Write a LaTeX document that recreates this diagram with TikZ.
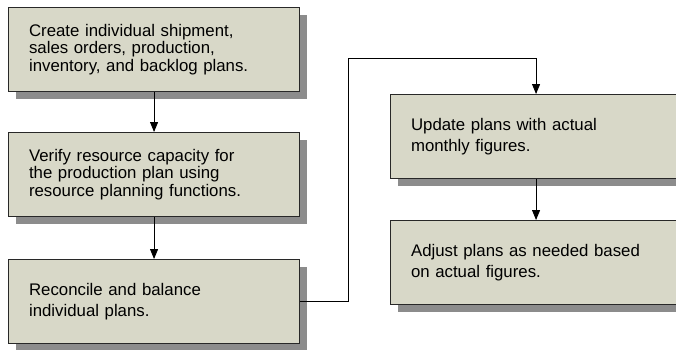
\documentclass[tikz,border=0pt]{standalone}
\usepackage{fontspec}
\setmainfont{Liberation Sans}
\usetikzlibrary{arrows.meta,shadows}
\definecolor{boxfill}{RGB}{216,216,200}
\definecolor{shadowgray}{RGB}{140,140,140}
\definecolor{boxline}{RGB}{40,40,40}
\begin{document}
\begin{tikzpicture}[x=1pt,y=-1pt,
  stepbox/.style={draw=boxline, line width=1.1pt, fill=boxfill,
    anchor=north west, minimum width=291pt, minimum height=84pt,
    text width=250pt, inner xsep=20.5pt, inner ysep=0pt, align=left,
    font=\fontsize{16.8}{17.8}\selectfont,
    general shadow={fill=shadowgray, shadow xshift=7pt, shadow yshift=-7pt}},
  twoline/.style={font=\fontsize{16.8}{21.5}\selectfont},
  arr/.style={draw=black, line width=0.9pt, -{Triangle[width=8pt,length=10pt]}}]
\useasboundingbox (0,0) rectangle (676,349);
\clip (0,0) rectangle (676,349);
\node[stepbox] (b1) at (8,7) {Create individual shipment,\\sales orders, production,\\inventory, and backlog plans.};
\node[stepbox] (b2) at (8,132) {Verify resource capacity for\\the production plan using\\resource planning functions.};
\node[stepbox, twoline] (b3) at (8,259) {Reconcile and balance\\individual plans.};
\node[stepbox, twoline] (b4) at (390,94) {Update plans with actual\\monthly figures.};
\node[stepbox, twoline] (b5) at (390,220) {Adjust plans as needed based\\on actual figures.};
\coordinate (c1) at (348,58);
\draw[arr] (b1.south) -- (b2.north);
\draw[arr] (b2.south) -- (b3.north);
\draw[arr] (b3.east) -| (c1) -| (b4.north);
\draw[arr] (b4.south) -- (b5.north);
\end{tikzpicture}
\end{document}
